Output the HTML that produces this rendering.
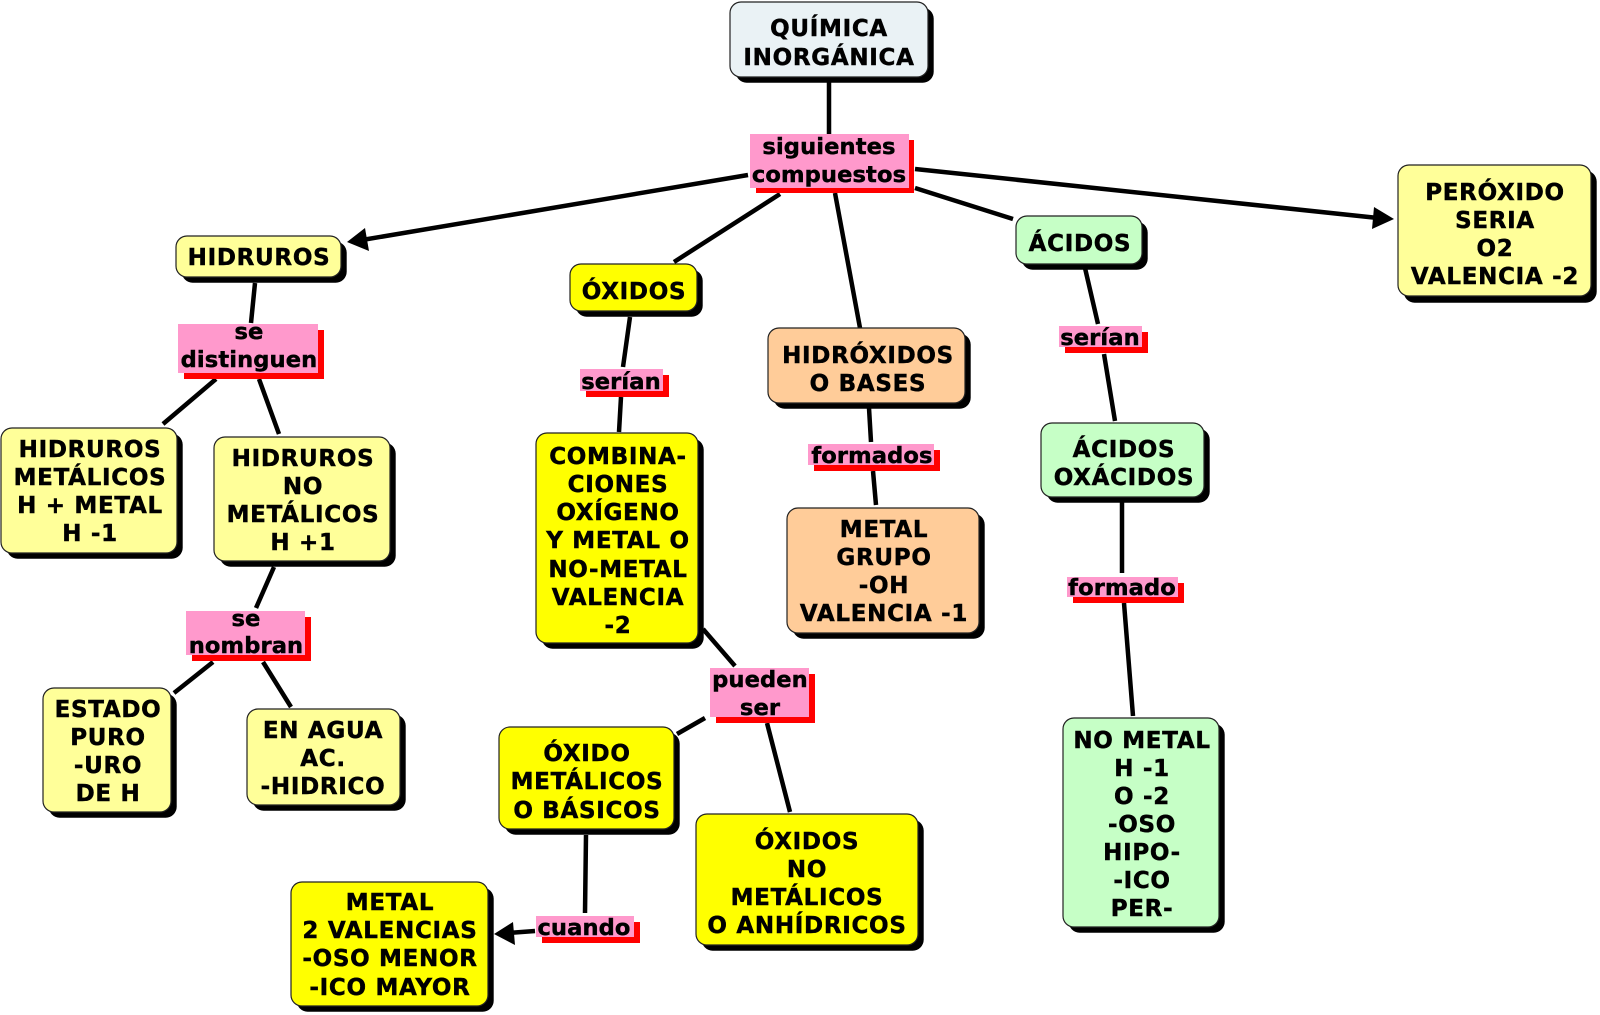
<!DOCTYPE html>
<html lang="es"><head><meta charset="utf-8"><title>Química Inorgánica</title>
<style>
html,body{margin:0;padding:0;background:#fff}
svg{display:block}
text{font-family:"DejaVu Sans","Liberation Sans",sans-serif;font-weight:bold;font-size:23px;fill:#000;stroke:#000;stroke-width:.45px;text-anchor:middle;letter-spacing:.7px}
text.t{font-size:22.6px;letter-spacing:.1px}
.l{stroke:#000;stroke-width:4.5;fill:none}
.s{fill:#000}
.n{stroke:#222;stroke-width:1.2}
.r{fill:#f00}.p{fill:#f9c}
.a{fill:#eaf2f5}.b{fill:#ff9}.c{fill:#ff0}.d{fill:#fc9}.e{fill:#c6ffc6}
</style></head><body>
<svg width="1600" height="1015" viewBox="0 0 1600 1015" xmlns="http://www.w3.org/2000/svg">
<rect width="1600" height="1015" fill="#fff"/>
<!-- connectors -->
<path class="l" d="M829 78V134M748 175L362 240M780 194L674 262M835 193L860 328M915 188L1013 219M915 169L1378 218
M255 283L251 323M216 379L163 424M259 379L279 434M274 567L256 608M213 662L174 693M263 662L291 707
M630 317L623 367M621 397L619 432M703 629L735 666M705 718L677 734M767 723L790 812M586 835L585 913M535 931L508 933
M869 408L871 442M873 471L876 505M1085 268L1098 324M1104 354L1115 421M1122 500V573M1124 603L1133 716"/>
<path class="s" d="M347 242L365 228L369 251Z"/>
<path class="s" d="M1394 219L1374 207L1372 229Z"/>
<path class="s" d="M494 934L513 922L515 945Z"/>
<!-- nodes: shadows -->
<g class="s" transform="translate(.7 .7)">
<rect x="735" y="7" width="198" height="75" rx="11"/>
<rect x="181" y="241" width="165" height="41" rx="11"/>
<rect x="6" y="433" width="176" height="125" rx="11"/>
<rect x="219" y="442" width="176" height="124" rx="11"/>
<rect x="48" y="693" width="128" height="124" rx="11"/>
<rect x="252" y="714" width="153" height="96" rx="11"/>
<rect x="575" y="269" width="127" height="47" rx="11"/>
<rect x="541" y="438" width="162" height="210" rx="11"/>
<rect x="504" y="732" width="175" height="102" rx="11"/>
<rect x="701" y="819" width="222" height="131" rx="11"/>
<rect x="296" y="887" width="197" height="124" rx="11"/>
<rect x="773" y="333" width="197" height="75" rx="11"/>
<rect x="792" y="513" width="192" height="125" rx="11"/>
<rect x="1021" y="221" width="126" height="48" rx="11"/>
<rect x="1046" y="428" width="163" height="74" rx="11"/>
<rect x="1068" y="723" width="156" height="209" rx="11"/>
<rect x="1403" y="170" width="193" height="132" rx="11"/>
</g>
<!-- nodes: faces -->
<rect class="n a" x="730" y="2" width="198" height="75" rx="11"/>
<rect class="n b" x="176" y="236" width="165" height="41" rx="11"/>
<rect class="n b" x="1" y="428" width="176" height="125" rx="11"/>
<rect class="n b" x="214" y="437" width="176" height="124" rx="11"/>
<rect class="n b" x="43" y="688" width="128" height="124" rx="11"/>
<rect class="n b" x="247" y="709" width="153" height="96" rx="11"/>
<rect class="n c" x="570" y="264" width="127" height="47" rx="11"/>
<rect class="n c" x="536" y="433" width="162" height="210" rx="11"/>
<rect class="n c" x="499" y="727" width="175" height="102" rx="11"/>
<rect class="n c" x="696" y="814" width="222" height="131" rx="11"/>
<rect class="n c" x="291" y="882" width="197" height="124" rx="11"/>
<rect class="n d" x="768" y="328" width="197" height="75" rx="11"/>
<rect class="n d" x="787" y="508" width="192" height="125" rx="11"/>
<rect class="n e" x="1016" y="216" width="126" height="48" rx="11"/>
<rect class="n e" x="1041" y="423" width="163" height="74" rx="11"/>
<rect class="n e" x="1063" y="718" width="156" height="209" rx="11"/>
<rect class="n b" x="1398" y="165" width="193" height="131" rx="11"/>
<!-- link labels -->
<rect class="r" x="756" y="140" width="158" height="53"/><rect class="p" x="750" y="134" width="159" height="54"/>
<rect class="r" x="184" y="330" width="140" height="49"/><rect class="p" x="178" y="324" width="140" height="49"/>
<rect class="r" x="192" y="617" width="119" height="44"/><rect class="p" x="186" y="611" width="119" height="44"/>
<rect class="r" x="586" y="375" width="83" height="22"/><rect class="p" x="580" y="369" width="83" height="22"/>
<rect class="r" x="716" y="674" width="99" height="49"/><rect class="p" x="710" y="668" width="99" height="49"/>
<rect class="r" x="542" y="922" width="98" height="21"/><rect class="p" x="536" y="916" width="98" height="21"/>
<rect class="r" x="814" y="450" width="126" height="21"/><rect class="p" x="808" y="444" width="126" height="21"/>
<rect class="r" x="1065" y="332" width="83" height="21"/><rect class="p" x="1059" y="326" width="83" height="21"/>
<rect class="r" x="1073" y="583" width="111" height="20"/><rect class="p" x="1067" y="577" width="111" height="20"/>
<!-- text -->
<text x="829" y="36">QUÍMICA</text><text x="829" y="65">INORGÁNICA</text>
<text class="t" x="829" y="154">siguientes</text><text class="t" x="829" y="182">compuestos</text>
<text x="259" y="265">HIDRUROS</text>
<text class="t" x="249" y="339">se</text><text class="t" x="249" y="367">distinguen</text>
<text x="90" y="457">HIDRUROS</text><text x="90" y="485">METÁLICOS</text><text x="90" y="513">H + METAL</text><text x="90" y="541">H -1</text>
<text x="303" y="466">HIDRUROS</text><text x="303" y="494">NO</text><text x="303" y="522">METÁLICOS</text><text x="303" y="550">H +1</text>
<text class="t" x="246" y="626">se</text><text class="t" x="246" y="653">nombran</text>
<text x="108" y="717">ESTADO</text><text x="108" y="745">PURO</text><text x="108" y="773">-URO</text><text x="108" y="801">DE H</text>
<text x="323" y="738">EN AGUA</text><text x="323" y="766">AC.</text><text x="323" y="794">-HIDRICO</text>
<text x="634" y="299">ÓXIDOS</text>
<text class="t" x="621" y="389">serían</text>
<text x="618" y="464">COMBINA-</text><text x="618" y="492">CIONES</text><text x="618" y="520">OXÍGENO</text><text x="618" y="548">Y METAL O</text><text x="618" y="577">NO-METAL</text><text x="618" y="605">VALENCIA</text><text x="618" y="633">-2</text>
<text class="t" x="760" y="687">pueden</text><text class="t" x="760" y="715">ser</text>
<text x="587" y="761">ÓXIDO</text><text x="587" y="789">METÁLICOS</text><text x="587" y="818">O BÁSICOS</text>
<text x="807" y="849">ÓXIDOS</text><text x="807" y="877">NO</text><text x="807" y="905">METÁLICOS</text><text x="807" y="933">O ANHÍDRICOS</text>
<text x="390" y="910">METAL</text><text x="390" y="938">2 VALENCIAS</text><text x="390" y="966">-OSO MENOR</text><text x="390" y="995">-ICO MAYOR</text>
<text class="t" x="584" y="935">cuando</text>
<text x="868" y="363">HIDRÓXIDOS</text><text x="868" y="391">O BASES</text>
<text class="t" x="872" y="463">formados</text>
<text x="884" y="537">METAL</text><text x="884" y="565">GRUPO</text><text x="884" y="593">-OH</text><text x="884" y="621">VALENCIA -1</text>
<text x="1080" y="251">ÁCIDOS</text>
<text class="t" x="1100" y="345">serían</text>
<text x="1124" y="457">ÁCIDOS</text><text x="1124" y="485">OXÁCIDOS</text>
<text class="t" x="1122" y="595">formado</text>
<text x="1142" y="748">NO METAL</text><text x="1142" y="776">H -1</text><text x="1142" y="804">O -2</text><text x="1142" y="832">-OSO</text><text x="1142" y="860">HIPO-</text><text x="1142" y="888">-ICO</text><text x="1142" y="916">PER-</text>
<text x="1495" y="200">PERÓXIDO</text><text x="1495" y="228">SERIA</text><text x="1495" y="256">O2</text><text x="1495" y="284">VALENCIA -2</text>
</svg>
</body></html>
